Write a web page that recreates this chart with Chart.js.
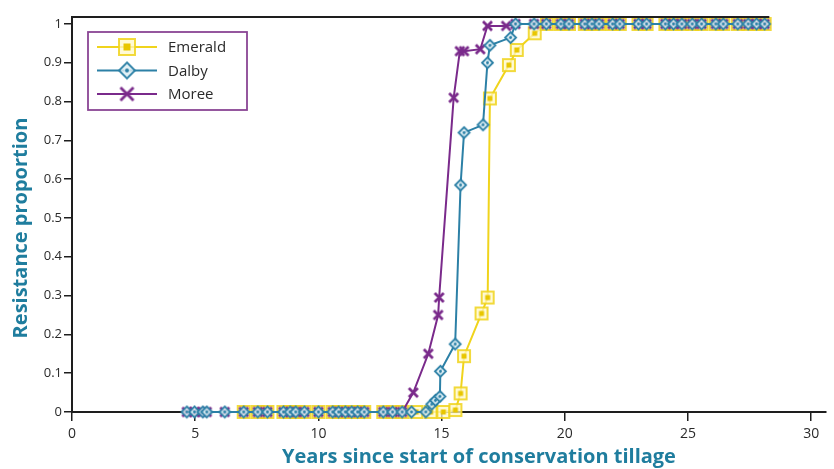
<!DOCTYPE html>
<html>
<head>
<meta charset="utf-8">
<script src="https://cdn.jsdelivr.net/npm/chart.js@4/dist/chart.umd.min.js"></script>
<style>
  html, body { margin: 0; padding: 0; background: #ffffff; }
  #wrap { width: 834px; height: 469px; }
</style>
</head>
<body>
<div id="wrap"><canvas id="chart" width="834" height="469"></canvas></div>
<script>
// ---- data: resistance proportion by years since start of conservation tillage ----
const seriesNames = ['Emerald', 'Dalby', 'Moree'];

const emeraldYears = [6.97, 7.54, 7.93, 8.58, 8.85, 9.08, 9.43, 10.0, 10.58, 10.82, 11.09, 11.35, 11.59, 11.86,
  12.63, 13.01, 13.4, 13.97, 14.55, 15.07, 15.56, 15.77, 15.91, 16.62, 16.87, 16.96, 17.73, 18.05, 18.78, 19.27,
  19.84, 20.17, 20.81, 21.1, 21.39, 21.94, 22.23, 22.99, 23.32, 24.08, 24.41, 24.75, 25.17, 25.55, 26.13, 26.43,
  27.02, 27.44, 27.78, 28.11];
const emeraldValues = [0, 0, 0, 0, 0, 0, 0, 0, 0, 0, 0, 0, 0, 0,
  0, 0, 0, 0, 0, 0, 0.005, 0.048, 0.144, 0.254, 0.295, 0.808, 0.894, 0.933, 0.976, 1,
  1, 1, 1, 1, 1, 1, 1, 1, 1, 1, 1, 1, 1, 1, 1, 1,
  1, 1, 1, 1];

const dalbyYears = [4.66, 4.97, 5.31, 5.47, 6.2, 6.97, 7.54, 7.93, 8.58, 8.85, 9.08, 9.43, 10.0, 10.58, 10.82,
  11.09, 11.35, 11.59, 11.86, 12.63, 13.01, 13.4, 13.78, 14.36, 14.6, 14.75, 14.93, 14.95, 15.55, 15.77, 15.91,
  16.68, 16.86, 16.96, 17.8, 18.0, 18.75, 19.25, 19.84, 20.17, 20.81, 21.1, 21.39, 21.94, 22.23, 22.99, 23.32,
  24.08, 24.41, 24.75, 25.17, 25.55, 26.13, 26.43, 27.02, 27.44, 27.78, 28.11];
const dalbyValues = [0, 0, 0, 0, 0, 0, 0, 0, 0, 0, 0, 0, 0, 0, 0,
  0, 0, 0, 0, 0, 0, 0, 0, 0, 0.02, 0.03, 0.04, 0.105, 0.175, 0.585, 0.72,
  0.74, 0.9, 0.945, 0.965, 1, 1, 1, 1, 1, 1, 1, 1, 1, 1, 1, 1,
  1, 1, 1, 1, 1, 1, 1, 1, 1, 1, 1];

const moreeYears = [4.66, 4.97, 5.31, 5.47, 6.2, 6.97, 7.54, 7.93, 8.58, 8.85, 9.08, 9.43, 10.0, 10.58, 10.82,
  11.09, 11.35, 11.59, 11.86, 12.63, 13.01, 13.4, 13.85, 14.46, 14.86, 14.9, 15.49, 15.74, 15.91, 16.57, 16.86,
  17.62, 18.0, 18.75, 19.25, 19.84, 20.17, 20.81, 21.1, 21.39, 21.94, 22.23, 22.99, 23.32, 24.08, 24.41, 24.75,
  25.17, 25.55, 26.13, 26.43, 27.02, 27.44, 27.78, 28.11];
const moreeValues = [0, 0, 0, 0, 0, 0, 0, 0, 0, 0, 0, 0, 0, 0, 0,
  0, 0, 0, 0, 0, 0, 0, 0.05, 0.15, 0.25, 0.295, 0.81, 0.93, 0.93, 0.935, 0.995,
  0.995, 1, 1, 1, 1, 1, 1, 1, 1, 1, 1, 1, 1, 1, 1, 1,
  1, 1, 1, 1, 1, 1, 1, 1];

const xTicks = [0, 5, 10, 15, 20, 25, 30];
const yTicks = [0, 0.1, 0.2, 0.3, 0.4, 0.5, 0.6, 0.7, 0.8, 0.9, 1];

const xTitle = 'Years since start of conservation tillage';
const yTitle = 'Resistance proportion';

// ---- styling ----
const COLORS = {
  Emerald: '#f0d41c',
  Dalby: '#2c80a6',
  Moree: '#7a2a8b'
};
const TITLE_COLOR = '#1f7d9e';
const TEXT_COLOR = '#2a2a2a';
const AXIS_COLOR = '#1e1e1e';
const FONT = "'Open Sans', 'DejaVu Sans', sans-serif";

// marker sprites drawn once onto small canvases
function sprite(size, draw) {
  const c = document.createElement('canvas');
  c.width = size; c.height = size;
  const g = c.getContext('2d');
  draw(g, size / 2);
  return c;
}
function squareMarker(s) {
  return sprite(s + 4, (g, m) => {
    const h = s / 2;
    g.fillStyle = 'rgba(255, 248, 200, 0.75)';
    g.fillRect(m - h, m - h, s, s);
    g.strokeStyle = 'rgba(240, 212, 28, 0.85)';
    g.lineWidth = 2;
    g.strokeRect(m - h, m - h, s, s);
    const k = Math.round(s * 0.42);
    g.fillStyle = '#e8c600';
    g.fillRect(m - k / 2, m - k / 2, k, k);
  });
}
function diamondMarker(s) {
  return sprite(s + 4, (g, m) => {
    const h = s / 2;
    g.beginPath();
    g.moveTo(m, m - h); g.lineTo(m + h, m); g.lineTo(m, m + h); g.lineTo(m - h, m); g.closePath();
    g.fillStyle = 'rgba(222, 238, 245, 0.85)';
    g.fill();
    g.strokeStyle = '#2c80a6';
    g.lineWidth = 1.8;
    g.stroke();
    g.beginPath();
    g.arc(m, m, Math.max(1.4, s * 0.12), 0, Math.PI * 2);
    g.fillStyle = '#2c80a6';
    g.fill();
  });
}
function crossMarker(s) {
  return sprite(s + 4, (g, m) => {
    const h = s / 2;
    g.strokeStyle = '#7a2a8b';
    g.lineWidth = 2.8;
    g.beginPath();
    g.moveTo(m - h, m - h); g.lineTo(m + h, m + h);
    g.moveTo(m + h, m - h); g.lineTo(m - h, m + h);
    g.stroke();
  });
}

const markers = {
  Emerald: squareMarker(12),
  Dalby: diamondMarker(11),
  Moree: crossMarker(9)
};
const legendMarkers = {
  Emerald: squareMarker(16),
  Dalby: diamondMarker(16),
  Moree: crossMarker(13)
};

function toPoints(xs, ys) {
  return xs.map((x, i) => ({ x: x, y: ys[i] }));
}

const seriesData = {
  Emerald: toPoints(emeraldYears, emeraldValues),
  Dalby: toPoints(dalbyYears, dalbyValues),
  Moree: toPoints(moreeYears, moreeValues)
};
// lower "order" is drawn on top
const drawOrder = { Emerald: 3, Dalby: 1, Moree: 2 };

const datasets = seriesNames.map(name => ({
  label: name,
  data: seriesData[name],
  borderColor: COLORS[name],
  backgroundColor: COLORS[name],
  borderWidth: 2,
  tension: 0,
  fill: false,
  pointStyle: markers[name],
  pointRadius: 6,
  pointHoverRadius: 6,
  order: drawOrder[name],
  clip: false
}));

// frame line, boxed legend and axis titles
const decorations = {
  id: 'decorations',
  afterDraw(chart) {
    const { ctx, chartArea: a, scales } = chart;
    ctx.save();

    // top frame line
    ctx.strokeStyle = AXIS_COLOR;
    ctx.lineWidth = 2;
    ctx.beginPath();
    ctx.moveTo(a.left - 1, a.top);
    ctx.lineTo(scales.x.getPixelForValue(28.3), a.top);
    ctx.stroke();

    // legend box
    const bx = a.left + 16, by = a.top + 15, bw = 159, bh = 78;
    ctx.fillStyle = '#ffffff';
    ctx.fillRect(bx, by, bw, bh);
    ctx.strokeStyle = '#8a4594';
    ctx.lineWidth = 1.8;
    ctx.strokeRect(bx, by, bw, bh);
    ctx.font = '15px ' + FONT;
    ctx.textBaseline = 'middle';
    ctx.textAlign = 'left';
    chart.data.datasets.forEach((ds, i) => {
      const y = by + 15 + i * 23.5;
      ctx.strokeStyle = ds.borderColor;
      ctx.lineWidth = 2;
      ctx.beginPath();
      ctx.moveTo(bx + 9, y);
      ctx.lineTo(bx + 69, y);
      ctx.stroke();
      const img = legendMarkers[ds.label];
      ctx.drawImage(img, bx + 39 - img.width / 2, y - img.height / 2);
      ctx.fillStyle = TEXT_COLOR;
      ctx.fillText(ds.label, bx + 80, y + 1);
    });

    // axis titles
    ctx.fillStyle = TITLE_COLOR;
    ctx.font = 'bold 20px ' + FONT;
    ctx.textAlign = 'center';
    ctx.textBaseline = 'alphabetic';
    ctx.fillText(xTitle, 479, 463);

    ctx.translate(27, 228);
    ctx.rotate(-Math.PI / 2);
    ctx.fillText(yTitle, 0, 0);

    ctx.restore();
  }
};

const tickFont = { family: FONT, size: 14 };
// plain number labels: 0, 0.1 ... 1
const plainLabel = v => String(Math.round(v * 10) / 10);

new Chart(document.getElementById('chart'), {
  type: 'line',
  data: { datasets: datasets },
  options: {
    responsive: false,
    animation: false,
    devicePixelRatio: 1,
    layout: { padding: { top: 17, right: 0, bottom: 0, left: 0 } },
    plugins: {
      legend: { display: false },
      tooltip: { enabled: false }
    },
    scales: {
      x: {
        type: 'linear',
        min: 0,
        max: 30.6,
        afterBuildTicks(scale) { scale.ticks = xTicks.map(v => ({ value: v })); },
        ticks: { font: tickFont, color: TEXT_COLOR, padding: 5, maxRotation: 0, autoSkip: false, callback: plainLabel },
        grid: { drawOnChartArea: false, tickLength: 9, color: AXIS_COLOR, lineWidth: 1.5 },
        border: { color: AXIS_COLOR, width: 2 },
        title: { display: false },
        afterFit(scale) { scale.height = 57; }
      },
      y: {
        type: 'linear',
        min: 0,
        max: 1.018,
        afterBuildTicks(scale) { scale.ticks = yTicks.map(v => ({ value: v })); },
        ticks: { font: { family: FONT, size: 13 }, color: TEXT_COLOR, padding: 2, autoSkip: false, callback: plainLabel },
        grid: { drawOnChartArea: false, tickLength: 8, color: AXIS_COLOR, lineWidth: 1.5 },
        border: { color: AXIS_COLOR, width: 2 },
        title: { display: false },
        afterFit(scale) { scale.width = 72; }
      }
    }
  },
  plugins: [decorations]
});
</script>
</body>
</html>
